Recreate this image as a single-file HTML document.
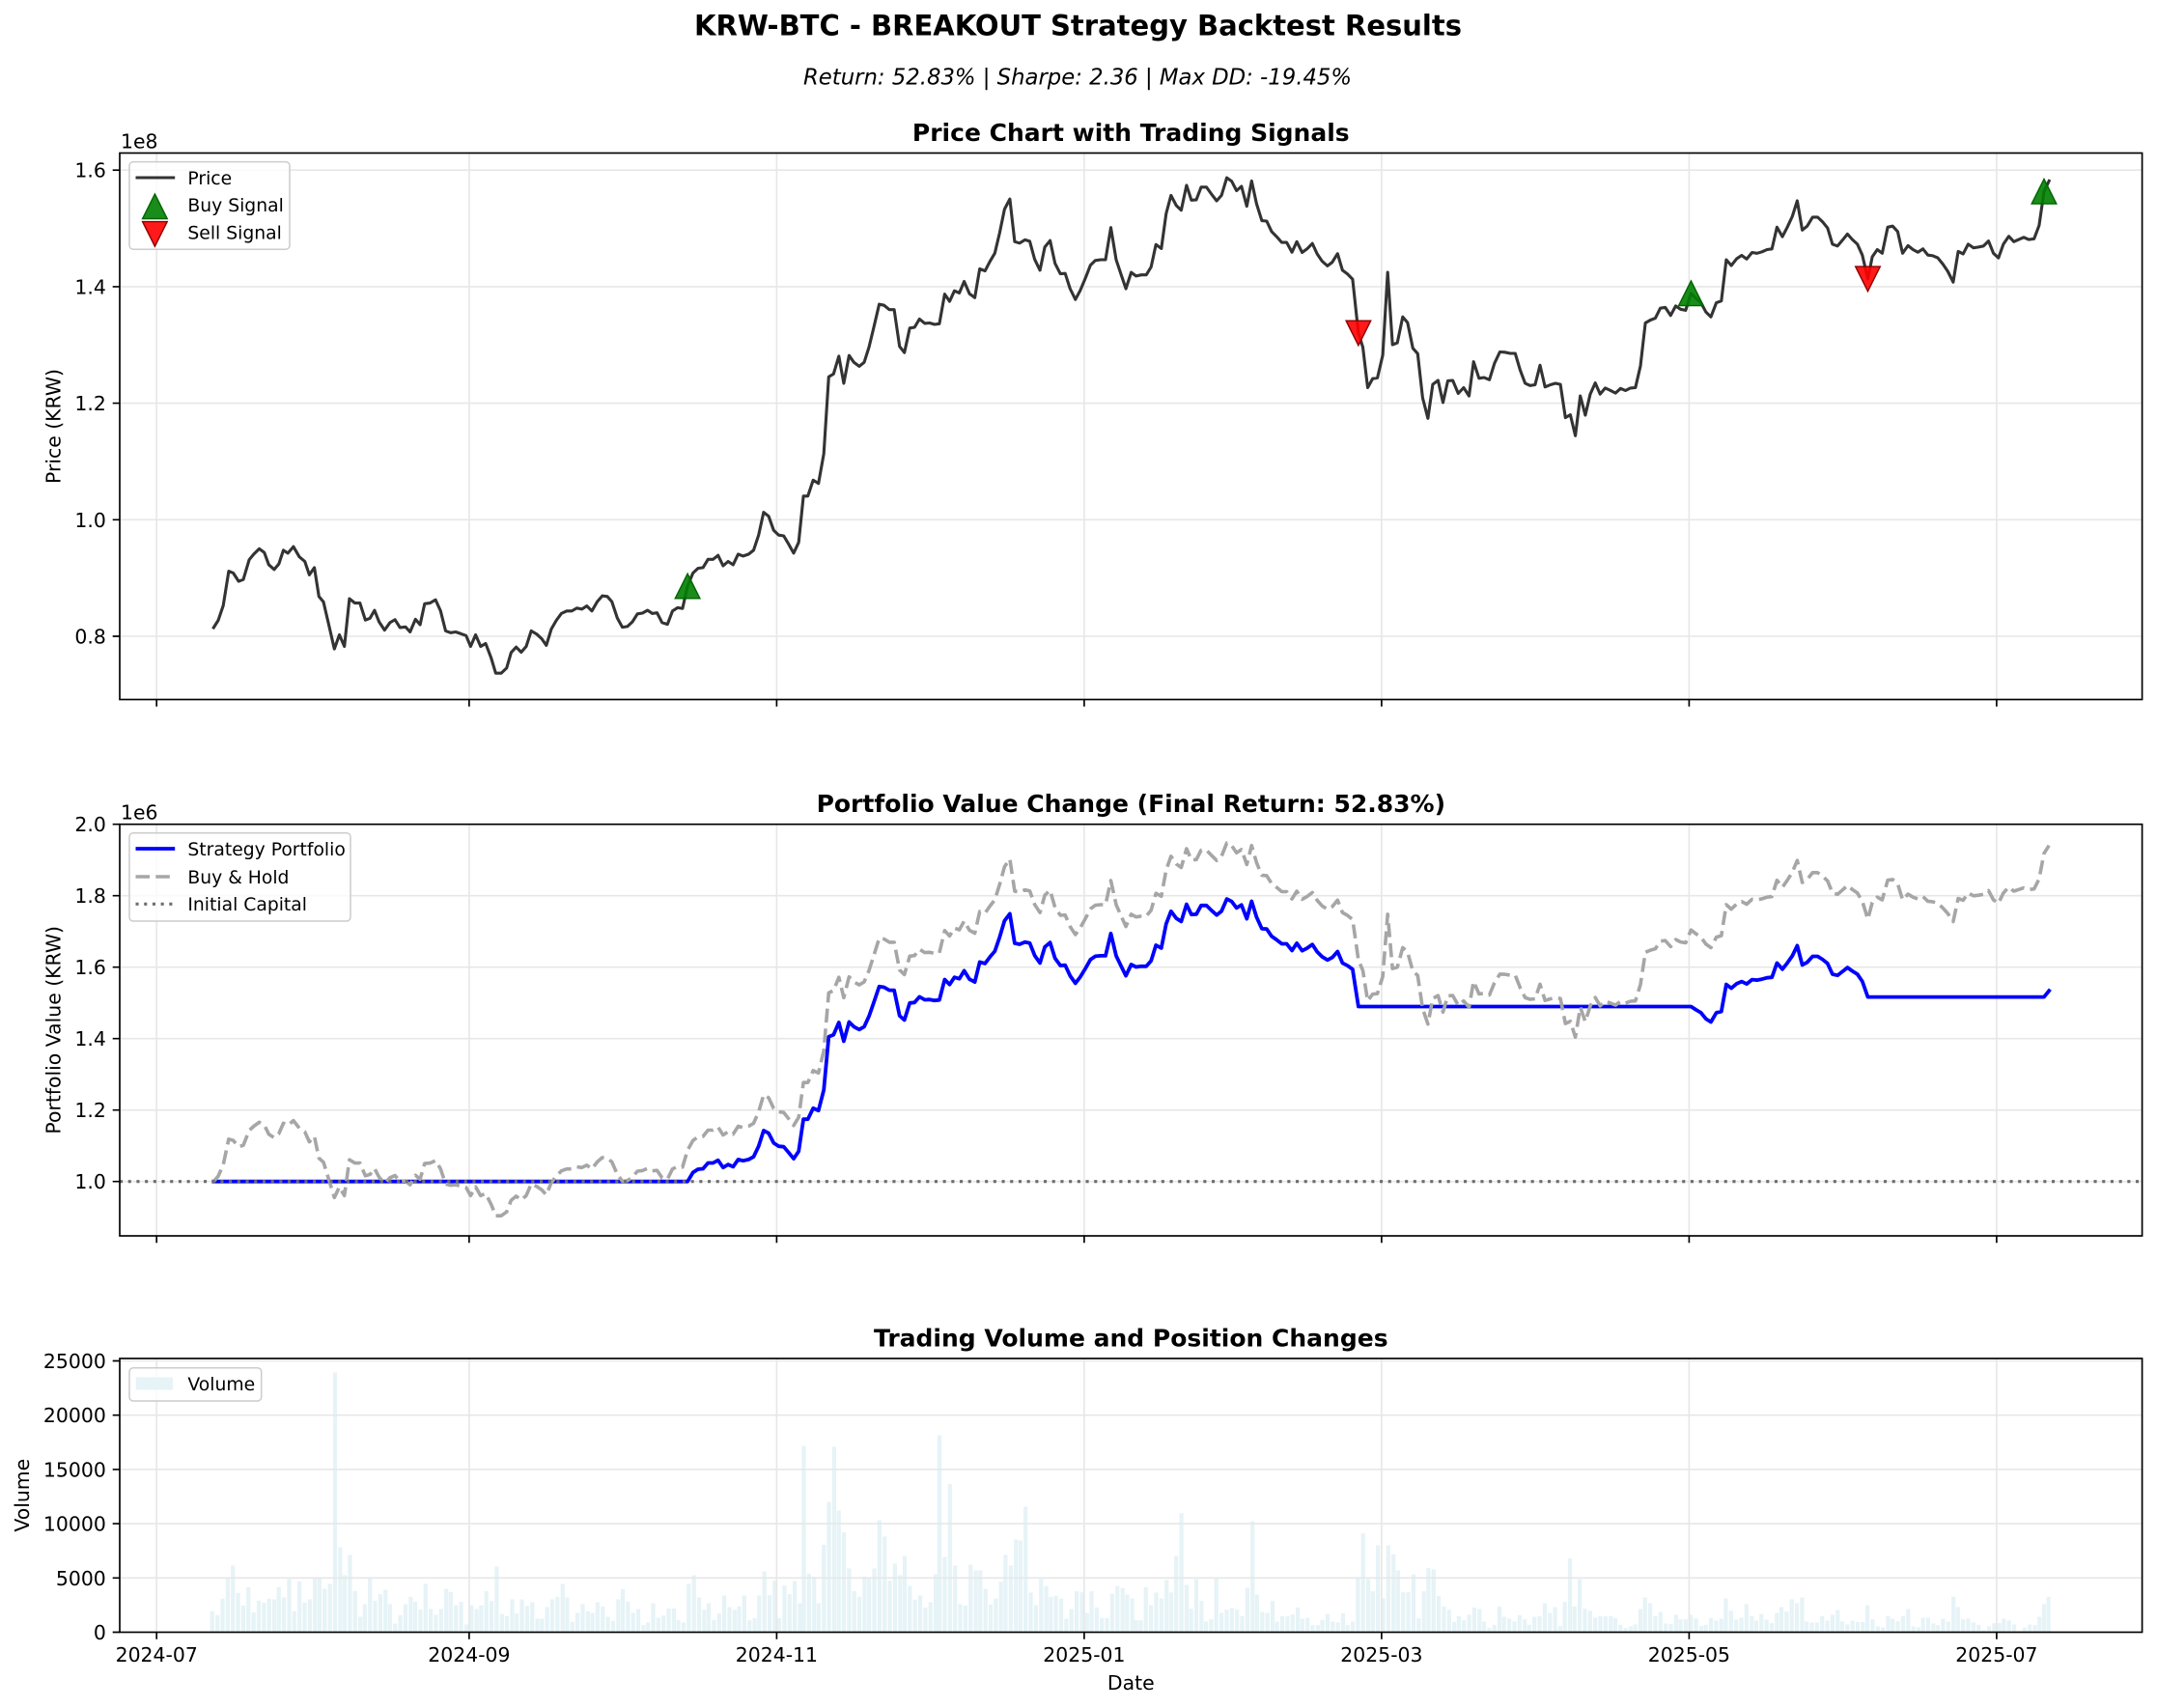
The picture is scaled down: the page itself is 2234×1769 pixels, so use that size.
<!DOCTYPE html>
<html><head><meta charset="utf-8">
<style>
html,body{margin:0;padding:0;background:#fff}
svg{display:block}
text{font-family:"DejaVu Sans","Liberation Sans",sans-serif;fill:#000}
</style></head>
<body>
<svg id="s" width="2234" height="1769" viewBox="0 0 2234 1769" xmlns="http://www.w3.org/2000/svg">
<rect width="2234" height="1769" fill="#fff"/>

<!-- titles -->
<text x="1116.5" y="36.7" text-anchor="middle" font-size="29" font-weight="bold" textLength="795" lengthAdjust="spacingAndGlyphs">KRW-BTC - BREAKOUT Strategy Backtest Results</text>
<text x="1116" y="87.3" text-anchor="middle" font-size="22.7" font-style="italic" textLength="568" lengthAdjust="spacingAndGlyphs">Return: 52.83% | Sharpe: 2.36 | Max DD: -19.45%</text>
<text x="1171.3" y="146" text-anchor="middle" font-size="25" font-weight="bold">Price Chart with Trading Signals</text>
<text x="1171.3" y="841.2" text-anchor="middle" font-size="25" font-weight="bold">Portfolio Value Change (Final Return: 52.83%)</text>
<text x="1171.3" y="1394.5" text-anchor="middle" font-size="25" font-weight="bold">Trading Volume and Position Changes</text>

<!-- volume bars (behind grid) -->
<g id="bars" fill="#e6f3f7"></g>

<!-- grid -->
<g stroke="#e7e7e7" stroke-width="1.6" fill="none">
<path d="M162.2 158.5V724.5M485.9 158.5V724.5M804.4 158.5V724.5M1122.9 158.5V724.5M1430.9 158.5V724.5M1749.4 158.5V724.5M2067.9 158.5V724.5"/>
<path d="M124 659H2218.6M124 538.3H2218.6M124 417.6H2218.6M124 296.9H2218.6M124 176.2H2218.6"/>
<path d="M162.2 853.7V1280M485.9 853.7V1280M804.4 853.7V1280M1122.9 853.7V1280M1430.9 853.7V1280M1749.4 853.7V1280M2067.9 853.7V1280"/>
<path d="M124 1223.7H2218.6M124 1149.7H2218.6M124 1075.7H2218.6M124 1001.7H2218.6M124 927.7H2218.6"/>
<path d="M162.2 1407V1690.5M485.9 1407V1690.5M804.4 1407V1690.5M1122.9 1407V1690.5M1430.9 1407V1690.5M1749.4 1407V1690.5M2067.9 1407V1690.5"/>
<path d="M124 1634.3H2218.6M124 1578.1H2218.6M124 1521.9H2218.6M124 1465.7H2218.6M124 1409.5H2218.6"/>
</g>

<!-- series -->
<g id="ax1"></g>
<g id="ax2"></g>

<!-- legends -->
<g>
<rect x="134" y="167.6" width="166" height="90.6" rx="4" fill="#fff" fill-opacity="0.8" stroke="#cccccc" stroke-width="1.5"/>
<line x1="140.5" y1="184" x2="181.2" y2="184" stroke="#333" stroke-width="3.1"/>
<polygon points="160.4,201 147.6,226.6 173.2,226.6" fill="#008000" fill-opacity="0.9" stroke="#006400" stroke-width="1.4"/>
<polygon points="160.4,255.2 147.6,229.6 173.2,229.6" fill="#ff0000" fill-opacity="0.9" stroke="#8b0000" stroke-width="1.4"/>
<text x="194.4" y="190.8" font-size="18.75">Price</text>
<text x="194.4" y="218.8" font-size="18.75">Buy Signal</text>
<text x="194.4" y="247.6" font-size="18.75">Sell Signal</text>
</g>
<g>
<rect x="134" y="862.7" width="229" height="91.3" rx="4" fill="#fff" fill-opacity="0.8" stroke="#cccccc" stroke-width="1.5"/>
<line x1="140.5" y1="879" x2="181.2" y2="879" stroke="#0000ff" stroke-width="3.8"/>
<line x1="140.5" y1="908" x2="181.2" y2="908" stroke="#a6a6a6" stroke-width="3.6" stroke-dasharray="14.5 6.3"/>
<line x1="140.5" y1="936.3" x2="181.2" y2="936.3" stroke="#6e6e6e" stroke-width="3.1" stroke-dasharray="3.1 5.6"/>
<text x="194.4" y="885.8" font-size="18.75">Strategy Portfolio</text>
<text x="194.4" y="914.8" font-size="18.75">Buy &amp; Hold</text>
<text x="194.4" y="943.1" font-size="18.75">Initial Capital</text>
</g>
<g>
<rect x="134" y="1416.7" width="136.7" height="34.3" rx="4" fill="#fff" fill-opacity="0.8" stroke="#cccccc" stroke-width="1.5"/>
<rect x="140.7" y="1426.5" width="38.2" height="13" fill="#e6f3f7"/>
<text x="194.4" y="1440" font-size="18.75">Volume</text>
</g>

<!-- spines -->
<g fill="none" stroke="#000" stroke-width="1.67">
<rect x="124" y="158.5" width="2094.6" height="566"/>
<rect x="124" y="853.7" width="2094.6" height="426.3"/>
<rect x="124" y="1407" width="2094.6" height="283.5"/>
</g>

<!-- ticks -->
<g stroke="#000" stroke-width="1.67" fill="none">
<path d="M116.7 659H124M116.7 538.3H124M116.7 417.6H124M116.7 296.9H124M116.7 176.2H124"/>
<path d="M116.7 1223.7H124M116.7 1149.7H124M116.7 1075.7H124M116.7 1001.7H124M116.7 927.7H124M116.7 853.7H124"/>
<path d="M116.7 1690.5H124M116.7 1634.3H124M116.7 1578.1H124M116.7 1521.9H124M116.7 1465.7H124M116.7 1409.5H124"/>
<path d="M162.2 724.5v7.3M485.9 724.5v7.3M804.4 724.5v7.3M1122.9 724.5v7.3M1430.9 724.5v7.3M1749.4 724.5v7.3M2067.9 724.5v7.3"/>
<path d="M162.2 1280v7.3M485.9 1280v7.3M804.4 1280v7.3M1122.9 1280v7.3M1430.9 1280v7.3M1749.4 1280v7.3M2067.9 1280v7.3"/>
<path d="M162.2 1690.5v7.3M485.9 1690.5v7.3M804.4 1690.5v7.3M1122.9 1690.5v7.3M1430.9 1690.5v7.3M1749.4 1690.5v7.3M2067.9 1690.5v7.3"/>
</g>

<!-- tick labels -->
<g font-size="20.4" text-anchor="end">
<text x="109.8" y="666.5">0.8</text>
<text x="109.8" y="545.8">1.0</text>
<text x="109.8" y="425.1">1.2</text>
<text x="109.8" y="304.4">1.4</text>
<text x="109.8" y="183.7">1.6</text>
<text x="109.8" y="1231.2">1.0</text>
<text x="109.8" y="1157.2">1.2</text>
<text x="109.8" y="1083.2">1.4</text>
<text x="109.8" y="1009.2">1.6</text>
<text x="109.8" y="935.2">1.8</text>
<text x="109.8" y="861.2">2.0</text>
<text x="109.8" y="1698">0</text>
<text x="109.8" y="1641.8">5000</text>
<text x="109.8" y="1585.6">10000</text>
<text x="109.8" y="1529.4">15000</text>
<text x="109.8" y="1473.2">20000</text>
<text x="109.8" y="1417">25000</text>
</g>
<g font-size="20.4" text-anchor="middle">
<text x="162.2" y="1721">2024-07</text>
<text x="485.9" y="1721">2024-09</text>
<text x="804.4" y="1721">2024-11</text>
<text x="1122.9" y="1721">2025-01</text>
<text x="1430.9" y="1721">2025-03</text>
<text x="1749.4" y="1721">2025-05</text>
<text x="2067.9" y="1721">2025-07</text>
</g>
<text x="125" y="153.3" font-size="20.4">1e8</text>
<text x="125" y="848.3" font-size="20.4">1e6</text>
<text x="1171.3" y="1750" font-size="20.4" text-anchor="middle">Date</text>
<text transform="translate(62.5,441.5) rotate(-90)" font-size="20.4" text-anchor="middle">Price (KRW)</text>
<text transform="translate(62.5,1066.8) rotate(-90)" font-size="20.4" text-anchor="middle">Portfolio Value (KRW)</text>
<text transform="translate(30,1548.7) rotate(-90)" font-size="20.4" text-anchor="middle">Volume</text>
</svg>

<script>
(function(){
var NS="http://www.w3.org/2000/svg";
function el(tag,a,p){var e=document.createElementNS(NS,tag);for(var k in a)e.setAttribute(k,a[k]);p.appendChild(e);return e;}
var Z5=[257,1336,267,1316,278,1275,290,1180,300,1185,312,1208,322,1203,335,1148,345,1133,357,1118,368,1128,378,1162,390,1175,400,1160,410,1122,420,1130,432,1112,445,1140,457,1153,467,1190,478,1170,488,1250,498,1265,510,1330,522,1395,533,1356,544,1388,555,1256,567,1268,578,1268,590,1315,600,1310,610,1288,620,1320,632,1343,644,1322,655,1314,666,1336,678,1334,688,1348,700,1313,710,1328,720,1270,732,1268,744,1259,755,1290,766,1345,777,1350,788,1348,800,1353,811,1358,821,1388,832,1356,843,1388,854,1380,866,1420,876,1462,888,1462,900,1448,910,1405,921,1390,932,1404,943,1388,954,1345,966,1354,977,1367,987,1385,998,1340,1009,1316,1020,1297,1032,1290,1043,1290,1054,1282,1065,1285,1076,1276,1087,1290,1099,1264,1110,1248,1121,1250,1131,1264,1143,1310,1154,1335,1165,1333,1176,1320,1187,1298,1198,1296,1209,1288,1220,1297,1230,1295,1241,1322,1253,1327,1264,1290,1275,1281,1286,1283,1297,1221,1309,1185,1320,1172,1331,1170,1342,1147,1353,1147,1364,1136,1375,1165,1386,1153,1397,1162,1408,1133,1419,1138,1431,1133,1442,1122,1453,1080,1464,1017,1475,1028,1486,1067,1497,1080,1508,1082,1519,1105,1530,1130,1541,1100];
var Z6=[70,972,80,972,92,928,104,937,116,855,127,642,138,634,150,585,161,660,173,583,184,602,196,613,207,602,218,560,229,505,241,441,252,444,264,456,275,456,287,558,298,575,310,507,321,505,332,482,344,494,355,493,366,497,377,495,389,413,400,433,411,404,422,410,433,378,445,412,457,423,468,343,480,349,491,323,502,300,513,244,524,178,536,150,547,268,558,272,570,263,581,267,592,317,604,347,615,283,627,265,638,328,650,357,661,356,672,398,684,428,695,403,707,368,718,333,729,320,741,318,752,318,764,229,776,318,787,358,798,398,810,353,821,363,833,360,844,360,855,338,866,276,878,287,889,190,900,140,912,168,923,181,935,112,946,153,957,152,968,117,980,117,991,136,1003,155,1014,140,1026,91,1037,101,1048,127,1059,115,1071,170,1082,100,1093,163,1105,210,1116,211,1127,240,1139,255,1150,270,1161,270,1173,297,1184,268,1196,298,1207,288,1219,273,1230,302,1241,322,1253,335,1264,325,1276,301,1287,347,1298,357,1310,372,1323,521,1333,560,1344,672,1355,647,1366,645,1378,582,1389,353,1400,553,1411,548,1423,476,1434,492,1446,563,1457,578,1468,700,1480,757,1491,663,1503,652,1514,713,1525,653,1536,652];
var Z7=[22,688,34,672,46,695,56,600,68,646,79,644,91,650,102,605,114,573,125,574,137,577,148,577,159,623,170,660,181,666,192,664,203,610,214,670,226,664,237,660,248,663,259,755,270,747,281,805,292,695,303,748,314,690,325,659,336,690,347,673,359,680,370,687,381,674,392,680,403,673,414,672,425,612,436,493,447,485,458,480,469,452,480,450,492,472,503,446,514,455,525,458,537,411,548,425,559,437,570,463,581,476,593,437,604,432,615,318,626,334,638,315,649,306,660,316,672,298,683,300,694,296,705,290,716,288,727,228,739,254,750,228,761,198,772,155,783,236,794,225,806,200,817,200,828,213,839,230,850,275,861,280,872,264,883,247,894,262,905,275,916,305,928,371,938,310,949,290,960,300,972,228,983,225,994,240,1005,300,1017,279,1028,290,1039,297,1050,288,1061,305,1072,307,1083,313,1094,330,1105,350,1117,380,1128,295,1139,302,1150,275,1162,285,1173,283,1184,280,1195,266,1206,300,1217,313,1228,275,1240,253,1251,268,1262,262,1273,256,1284,262,1296,260,1307,223,1318,129,1329,100];
var pts=[];
function add(a,x0,sx){for(var i=0;i<a.length;i+=2){pts.push([x0+a[i]/sx,0.8+(1360-a[i+1])/1612.5]);}}
add(Z5,100,2.119);add(Z6,800,2.18);add(Z7,1500,2.136);
function Y1(v){return 659-(v-0.8)*603.5;}
function Y2(v){return 1223.7-(v-1)*370;}
function nearest(x){var b=0,d=1e9;for(var i=0;i<pts.length;i++){var dd=Math.abs(pts[i][0]-x);if(dd<d){d=dd;b=i;}}return b;}
var buys=[712.1,1751.4,2117.0].map(nearest), sells=[1406.9,1934.5].map(nearest);
var g1=document.getElementById('ax1'), g2=document.getElementById('ax2');
function poly(arr,fy){return arr.map(function(p){return p[0].toFixed(1)+','+fy(p[1]).toFixed(1);}).join(' ');}
// price line
el('polyline',{points:poly(pts,Y1),fill:'none',stroke:'#333333','stroke-width':'3.1','stroke-linejoin':'round','stroke-linecap':'square'},g1);
// markers
function tri(cx,cy,up,fill,stroke){var h=12.8;var p=up?[[cx,cy-h],[cx-h,cy+h],[cx+h,cy+h]]:[[cx,cy+h],[cx-h,cy-h],[cx+h,cy-h]];
 el('polygon',{points:p.map(function(q){return q[0].toFixed(1)+','+q[1].toFixed(1);}).join(' '),fill:fill,'fill-opacity':'0.9',stroke:stroke,'stroke-width':'1.4'},g1);}
buys.forEach(function(i){tri(pts[i][0],Y1(pts[i][1]),true,'#008000','#006400');});
sells.forEach(function(i){tri(pts[i][0],Y1(pts[i][1]),false,'#ff0000','#8b0000');});
// portfolio
var p0=pts[0][1];
var bh=pts.map(function(p){return [p[0],p[1]/p0];});
var st=[],S=1,Se=1,ve=0,hold=false;
for(var i=0;i<pts.length;i++){
 var v=pts[i][1];
 if(buys.indexOf(i)>=0 && !hold){hold=true;Se=S;ve=v;}
 else if(sells.indexOf(i)>=0 && hold){S=Se*v/ve;hold=false;}
 else if(hold){S=Se*v/ve;}
 st.push([pts[i][0],S]);
}
el('polyline',{points:poly(st,Y2),fill:'none',stroke:'#0000ff','stroke-width':'3.8','stroke-linejoin':'round','stroke-linecap':'square'},g2);
el('polyline',{points:poly(bh,Y2),fill:'none',stroke:'#a6a6a6','stroke-width':'3.6','stroke-dasharray':'14.5 6.3','stroke-linejoin':'round'},g2);
el('line',{x1:124,y1:1223.7,x2:2218.6,y2:1223.7,stroke:'#6e6e6e','stroke-width':'3.1','stroke-dasharray':'3.1 5.6'},g2);
// volume bars
var Z9=[143,805,151,817,159,766,167,700,175,663,183,748,191,787,199,730,207,808,215,772,223,778,231,766,239,768,246,730,254,762,262,705,270,805,278,712,286,778,294,768,302,701,309,700,317,735,325,720,333,63,341,606,348,693,356,630,364,742,372,822,379,783,387,702,395,772,403,752,411,738,418,783,426,843,434,817,442,783,450,760,457,775,465,800,473,720,481,798,489,816,497,798,505,735,512,745,520,786,528,776,536,846,544,786,552,798,559,787,567,742,575,773,583,666,591,813,599,820,607,768,614,812,622,768,630,788,638,777,646,828,653,828,661,792,669,768,677,760,685,720,692,762,700,838,708,810,716,783,724,805,731,810,739,777,747,790,755,822,763,835,771,768,778,736,786,775,794,810,802,798,810,848,817,840,825,780,833,825,841,818,849,796,857,796,864,832,872,840,880,720,888,693,896,762,904,800,911,780,919,832,927,812,935,756,943,792,951,800,958,790,966,756,974,833,982,826,989,756,997,681,1005,755,1013,709,1020,826,1028,725,1036,752,1044,711,1052,780,1058,291,1066,688,1074,698,1081,780,1089,598,1097,465,1105,294,1112,492,1120,560,1128,672,1136,742,1144,760,1152,697,1159,700,1167,672,1175,522,1183,573,1191,710,1199,657,1207,693,1214,633,1222,726,1230,769,1238,756,1246,793,1254,777,1262,690,1268,258,1276,636,1284,410,1292,663,1300,783,1308,787,1316,660,1324,678,1331,678,1339,735,1347,784,1355,765,1363,713,1370,630,1378,663,1386,582,1393,585,1401,480,1409,747,1417,786,1425,705,1433,727,1440,760,1448,757,1456,766,1464,828,1472,798,1480,743,1488,746,1496,810,1503,743,1511,793,1519,826,1527,826,1535,750,1543,726,1551,733,1558,753,1566,765];
var Z10=[10,833,17,833,25,730,33,786,41,747,49,765,57,708,64,747,72,633,80,500,88,723,95,797,103,705,111,773,118,837,126,830,134,702,142,810,150,800,158,795,166,800,174,820,182,732,190,525,197,753,205,807,213,810,221,773,228,837,236,820,244,821,252,815,260,793,267,828,275,825,283,848,291,848,298,832,306,813,314,837,322,840,330,811,337,848,345,837,353,700,361,563,369,705,376,743,384,600,392,765,400,600,408,628,415,678,423,746,431,746,439,690,447,827,455,743,462,670,470,675,478,758,486,790,494,800,502,838,509,820,517,833,525,816,533,793,541,798,548,837,556,857,564,847,572,790,579,822,587,828,595,837,603,817,611,830,618,847,626,822,634,820,642,780,650,810,658,792,666,851,673,776,681,641,688,790,696,705,704,797,712,804,720,825,728,820,736,820,744,820,751,826,759,847,767,857,775,852,782,846,790,798,797,762,805,780,813,820,821,807,829,843,837,845,845,816,852,830,860,830,868,816,876,827,884,851,891,847,899,826,907,834,915,828,922,765,930,803,938,831,946,825,954,783,962,820,969,834,977,813,985,831,993,842,1001,810,1008,792,1016,806,1024,768,1032,780,1040,762,1047,837,1055,840,1063,840,1071,820,1079,834,1087,816,1095,801,1102,837,1110,846,1118,834,1126,838,1134,838,1141,786,1149,830,1157,852,1165,855,1173,820,1180,828,1188,836,1196,820,1204,798,1212,852,1220,855,1227,825,1235,825,1243,843,1250,848,1258,828,1266,837,1274,760,1281,792,1289,830,1297,828,1305,840,1313,847,1321,863,1329,852,1337,842,1345,842,1352,828,1360,833,1368,846,1376,866,1384,856,1392,846,1400,848,1407,822,1414,783,1421,760];
var gb=document.getElementById('bars');
function bars(a,x0){for(var i=0;i<a.length;i+=2){var x=x0+a[i]/1.4933;var h=(870-a[i+1])/3;if(h<0.5)h=0.5;
 el('rect',{x:(x-2.09).toFixed(2),y:(1690.5-h).toFixed(2),width:'4.18',height:h.toFixed(2)},gb);}}
bars(Z9,124);bars(Z10,1170);
})();
</script>
</body></html>
